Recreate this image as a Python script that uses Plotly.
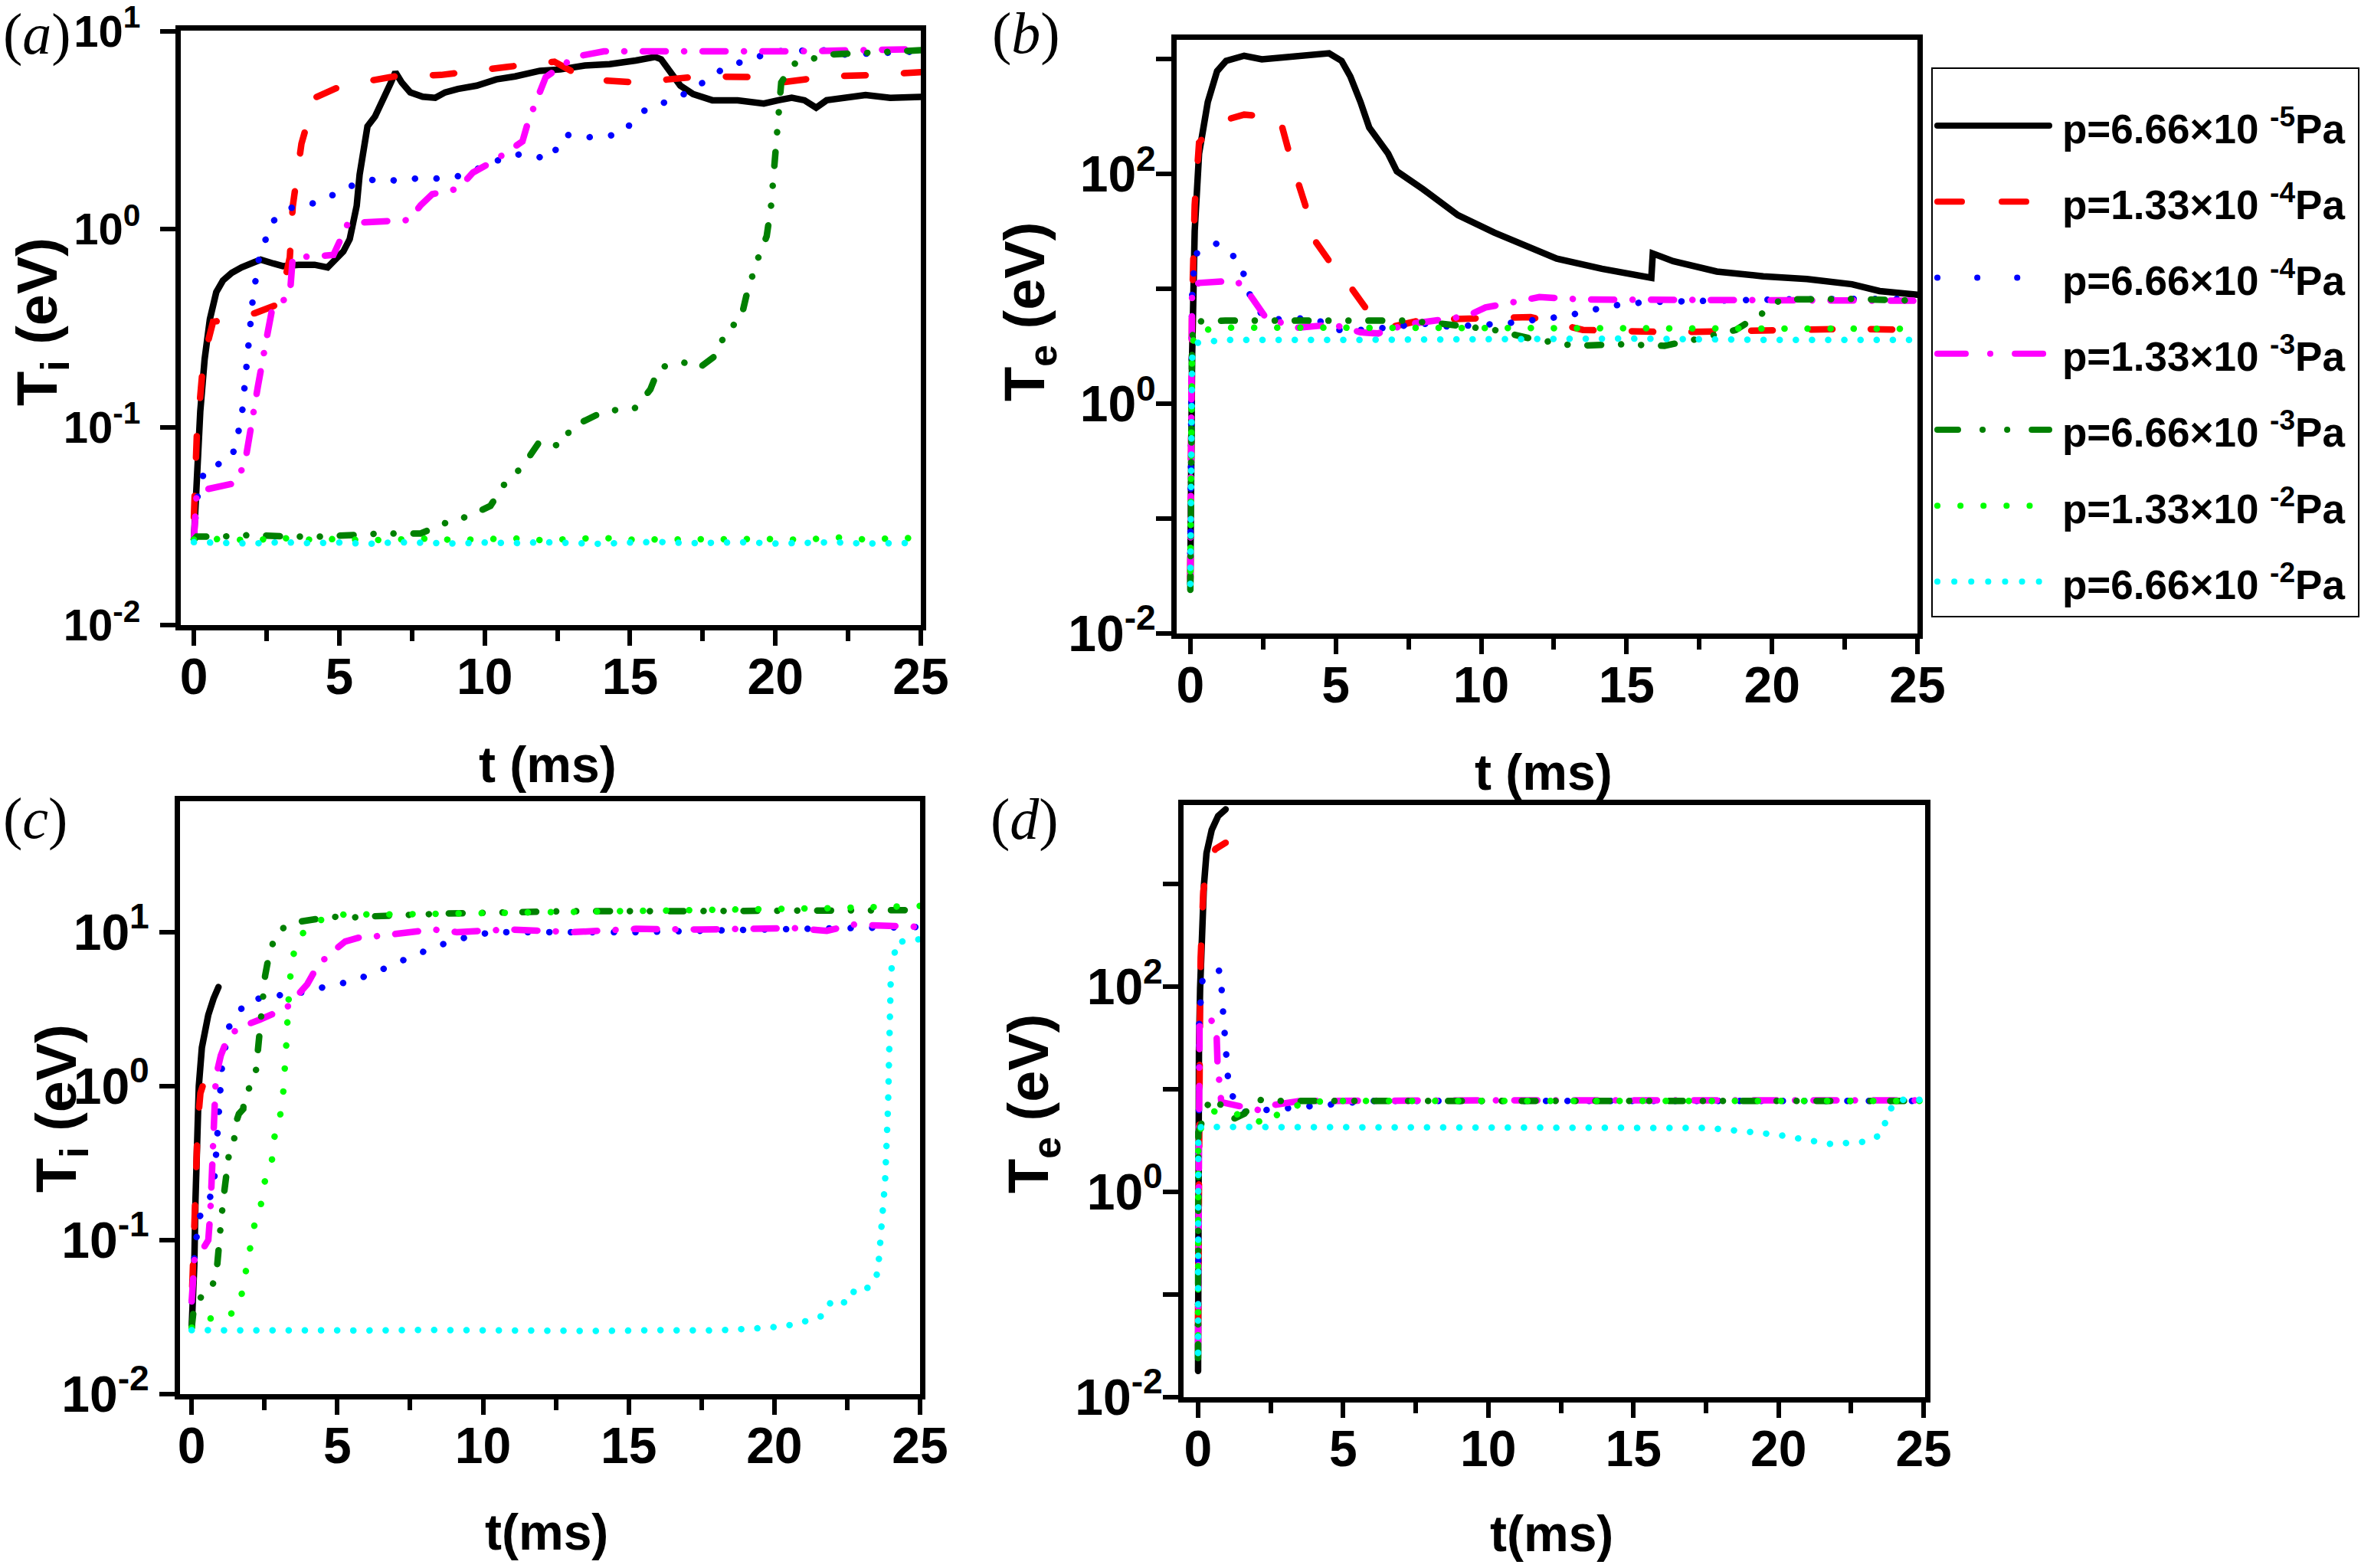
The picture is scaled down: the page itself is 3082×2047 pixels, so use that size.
import plotly.graph_objects as go

# ---------------------------------------------------------------------------
# data (t in ms, T in eV)
# series order: 6.66e-5, 1.33e-4, 6.66e-4, 1.33e-3, 6.66e-3, 1.33e-2, 6.66e-2 Pa
# ---------------------------------------------------------------------------

# (a) ion temperature
a_black_t = [0, 0.11, 0.22, 0.37, 0.55, 0.77, 1.0, 1.3, 1.64, 2.08, 2.3, 2.73, 3.06, 3.6, 4.15, 4.6, 4.9, 5.14, 5.36, 5.47,
             5.6, 5.7, 5.84, 5.97, 6.23, 6.56, 6.78, 6.93, 7.15, 7.44, 7.87, 8.3, 8.64, 9.08, 9.73, 10.4, 11.05, 11.9, 12.6, 13.45,
             14.3, 15.2, 15.86, 16.07, 16.4, 16.73, 17.17, 17.83, 18.7, 19.6, 20.1, 20.56, 21.0, 21.4, 21.76, 22.4, 23.1, 23.95, 25.0]
a_black_y = [0.027, 0.066, 0.12, 0.22, 0.35, 0.48, 0.55, 0.6, 0.64, 0.68, 0.70, 0.67, 0.65, 0.66, 0.66, 0.64, 0.70, 0.77, 0.89, 1.03,
             1.31, 1.88, 2.5, 3.3, 3.7, 4.6, 5.5, 6.2, 5.5, 4.9, 4.66, 4.6, 4.9, 5.1, 5.3, 5.7, 5.9, 6.3, 6.4, 6.7,
             6.8, 7.1, 7.4, 7.2, 6.2, 5.3, 4.8, 4.47, 4.47, 4.3, 4.47, 4.6, 4.47, 4.1, 4.47, 4.6, 4.75, 4.6, 4.65]
a_red_t = [0, 0.1, 0.33, 0.66, 1.2, 2.1, 2.95, 3.3, 3.4, 3.7, 4.15, 5.1, 6.9, 8.5, 10.8, 12.4, 13.5, 15.2, 17.4, 19.6, 20.2, 21.8, 23.5, 25.0]
a_red_y = [0.035, 0.09, 0.22, 0.34, 0.35, 0.376, 0.42, 0.72, 1.3, 2.7, 4.6, 5.3, 5.9, 6.0, 6.6, 7.0, 5.7, 5.5, 5.9, 5.85, 5.5, 5.9, 6.0, 6.2]
a_blue_t = [0, 0.1, 0.37, 1.3, 1.64, 1.75, 1.86, 2.03, 2.25, 2.7, 3.35, 3.9, 4.5, 5.07, 5.7, 6.4, 7.0, 7.65, 8.4, 9.1,
            9.7, 10.7, 11.3, 12.25, 12.75, 13.5, 14.65, 15.2, 15.6, 16.4, 17.1, 18.3, 19.1, 20.0, 21.8, 22.4, 25.0]
a_blue_y = [0.027, 0.043, 0.061, 0.069, 0.11, 0.17, 0.28, 0.45, 0.73, 1.09, 1.28, 1.32, 1.41, 1.57, 1.72, 1.8, 1.75, 1.8, 1.8, 1.85,
            2.0, 2.3, 2.4, 2.25, 3.0, 2.9, 3.0, 3.6, 4.1, 4.45, 5.0, 6.6, 7.2, 7.9, 8.0, 7.6, 7.9]
a_mag_t = [0, 0.1, 0.3, 1.4, 1.75, 1.97, 2.2, 2.5, 2.7, 3.3, 3.4, 4.3, 4.8, 5.3, 6.45, 7.4, 7.8, 8.2, 9.1, 9.6,
           10.3, 11.3, 11.5, 11.8, 12.1, 13.1, 14.1, 16.1, 18.5, 20.7, 25.0]
a_mag_y = [0.027, 0.047, 0.048, 0.052, 0.065, 0.107, 0.16, 0.28, 0.4, 0.46, 0.72, 0.73, 0.74, 1.07, 1.1, 1.11, 1.32, 1.5, 1.6, 1.93,
           2.2, 2.77, 3.5, 4.6, 5.85, 7.4, 7.9, 7.9, 7.9, 7.9, 8.1]
a_dkg_t = [0, 0.1, 1.0, 2.0, 3.2, 4.5, 6.45, 7.8, 8.6, 9.5, 10.2, 10.7, 11.3, 11.9, 12.6, 13.0, 14.1, 15.2, 15.7, 16.0,
           17.0, 17.4, 18.0, 18.3, 18.8, 19.0, 19.35, 19.7, 19.85, 20.0, 20.05, 20.2, 20.6, 21.8, 25.0]
a_dkg_y = [0.027, 0.028, 0.028, 0.0285, 0.028, 0.028, 0.029, 0.029, 0.0326, 0.0357, 0.040, 0.052, 0.063, 0.085, 0.08, 0.10, 0.12, 0.125, 0.155, 0.20,
           0.213, 0.20, 0.233, 0.31, 0.345, 0.46, 0.68, 0.92, 1.31, 2.4, 3.4, 5.5, 6.8, 7.6, 8.0]
a_ltg_t = [0, 1, 2, 3, 4, 5, 6, 7, 8, 9, 10, 11, 12, 13, 14, 15, 16, 17, 18, 19, 20, 21, 22, 23, 24, 25]
a_ltg_y = [0.027, 0.0272, 0.0268, 0.0275, 0.027, 0.0272, 0.0268, 0.027, 0.0273, 0.0269, 0.0271, 0.0274, 0.0268,
           0.0272, 0.0276, 0.027, 0.0271, 0.0269, 0.0274, 0.0275, 0.0272, 0.0269, 0.0278, 0.0271, 0.0273, 0.0276]
a_cyan_t = [0, 1, 2, 3, 4, 5, 6, 7, 8, 9, 10, 11, 12, 13, 14, 15, 16, 17, 18, 19, 20, 21, 22, 23, 24, 25]
a_cyan_y = [0.0262, 0.026, 0.0258, 0.0262, 0.0259, 0.0261, 0.0257, 0.0262, 0.026, 0.0258, 0.0261, 0.0259, 0.0262,
            0.026, 0.0257, 0.0261, 0.0263, 0.0259, 0.026, 0.0262, 0.0258, 0.026, 0.0262, 0.0258, 0.0261, 0.026]

# (b) electron temperature
b_black_t = [0, 0.06, 0.15, 0.3, 0.6, 0.92, 1.23, 1.85, 2.46, 3.1, 3.7, 4.3, 4.77, 5.2, 5.5, 5.85, 6.15, 6.8, 7.1, 8.0,
             9.2, 10.45, 11.7, 12.6, 14.15, 15.7, 15.85, 15.9, 16.6, 18.1, 19.7, 21.2, 22.75, 23.7, 25.0]
b_black_y = [0.027, 2.5, 32, 151, 425, 790, 970, 1075, 1000, 1040, 1075, 1090, 1130, 970, 710, 425, 255, 151, 106, 74,
             44, 31, 22.7, 18.4, 15, 12.9, 12.5, 20.4, 17.5, 14.2, 12.9, 12.2, 11, 9.6, 8.9]
b_red_t = [0, 0.06, 0.15, 0.3, 0.9, 1.85, 3.07, 3.5, 3.95, 4.3, 4.9, 5.5, 6.15, 6.8, 8.0, 9.2, 10.45, 11.7, 12.6, 13.5, 16.6, 19.7, 22.75, 25.0]
b_red_y = [0.03, 6.9, 54, 188, 282, 330, 310, 123, 54, 26, 15.8, 10.5, 6.2, 4.6, 5.4, 5.5, 5.6, 5.7, 5.0, 4.4, 4.2, 4.4, 4.5, 4.4]
b_blue_t = [0, 0.06, 0.15, 0.92, 1.7, 2.1, 2.6, 4.3, 4.9, 6.0, 8.0, 8.9, 10.8, 11.7, 12.9, 13.85, 14.75, 15.7, 18.45, 20.1, 22.75, 25.0]
b_blue_y = [0.05, 8.5, 20, 25, 17.5, 8.0, 5.4, 5.6, 4.4, 4.4, 5.0, 4.7, 5.0, 5.3, 5.8, 6.6, 7.3, 7.7, 8.1, 8.1, 8.2, 8.2]
b_mag_t = [0, 0.06, 0.3, 1.54, 1.85, 2.6, 3.7, 4.9, 5.85, 6.45, 7.4, 8.6, 9.5, 10.15, 11.1, 12.0, 13.5, 16.6, 19.7, 25.0]
b_mag_y = [0.03, 10.5, 11.3, 11.8, 10.5, 5.6, 4.6, 4.9, 4.2, 4.1, 4.9, 5.3, 5.8, 6.9, 7.8, 8.5, 8.1, 8.0, 8.1, 7.9]
b_dkg_t = [0, 0.06, 0.15, 1.2, 4.3, 7.4, 8.6, 10.45, 11.7, 13.2, 14.75, 16.3, 17.5, 18.75, 19.7, 20.3, 22.75, 25.0]
b_dkg_y = [0.024, 3.7, 5.2, 5.3, 5.3, 5.3, 5.0, 4.4, 3.7, 3.2, 3.3, 3.2, 3.7, 4.4, 6.2, 8.1, 8.2, 7.9]
b_ltg_t = [0, 0.06, 0.15, 1.2, 5, 10, 15, 20, 25]
b_ltg_y = [0.035, 3.0, 4.3, 4.6, 4.6, 4.6, 4.5, 4.6, 4.5]
b_cyan_t = [0, 0.06, 0.25, 1.2, 5, 10, 15, 20, 25]
b_cyan_y = [0.027, 2.5, 3.4, 3.6, 3.6, 3.7, 3.7, 3.6, 3.6]

# (c) ion temperature
c_black_t = [0, 0.05, 0.09, 0.13, 0.18, 0.245, 0.35, 0.57, 0.75, 0.92]
c_black_y = [0.027, 0.04, 0.069, 0.18, 0.47, 1.0, 1.78, 2.9, 3.7, 4.4]
c_red_t = [0.02, 0.07, 0.1, 0.13, 0.17, 0.2, 0.3, 0.46, 0.65, 0.85]
c_red_y = [0.05, 0.08, 0.12, 0.2, 0.35, 0.55, 0.9, 1.12, 1.3, 1.48]
c_blue_t = [0, 0.11, 0.26, 0.75, 0.85, 0.95, 1.03, 1.26, 1.88, 2.58, 3.31, 3.99, 4.72, 5.43, 6.24, 6.95, 7.66, 8.58, 9.46, 10.3,
            12.2, 15.25, 19.6, 22.7, 25.0]
c_blue_y = [0.04, 0.087, 0.14, 0.21, 0.39, 0.72, 1.28, 2.39, 3.56, 3.8, 4.0, 4.1, 4.5, 4.76, 5.4, 6.25, 7.1, 8.3, 9.3, 10.0,
            10.0, 10.0, 10.4, 10.6, 10.8]
c_mag_t = [0, 0.1, 0.22, 0.57, 0.64, 0.68, 0.7, 0.73, 0.79, 0.83, 1.0, 1.19, 1.56, 1.95, 2.33, 2.8, 3.16, 3.48, 3.97, 4.27,
           4.65, 5.27, 5.82, 6.32, 7.2, 8.3, 9.1, 10.9, 13.1, 15.25, 17.4, 20.7, 21.8, 22.7, 25.0]
c_mag_y = [0.04, 0.077, 0.078, 0.10, 0.15, 0.22, 0.35, 0.5, 0.74, 1.15, 1.58, 1.95, 2.37, 2.5, 2.7, 2.95, 3.07, 3.6, 4.6, 5.8,
           7.0, 8.7, 9.3, 9.4, 9.85, 10.4, 10.0, 10.4, 10.0, 10.5, 10.4, 10.6, 10.2, 11.2, 10.8]
c_dkg_t = [0, 0.1, 0.28, 0.68, 0.88, 0.92, 0.99, 1.08, 1.17, 1.27, 1.45, 1.49, 1.62, 1.77, 1.8, 2.1, 2.2, 2.28, 2.34, 2.42,
           2.52, 2.69, 3.0, 3.57, 4.15, 4.84, 5.4, 5.9, 8.7, 13.1, 17.4, 21.8, 25.0]
c_dkg_y = [0.027, 0.04, 0.042, 0.047, 0.07, 0.08, 0.12, 0.18, 0.25, 0.35, 0.42, 0.56, 0.66, 0.71, 0.86, 1.06, 1.23, 1.73, 2.57, 3.6,
           5.2, 7.7, 10.3, 11.6, 12.1, 12.6, 12.4, 12.6, 13.2, 13.7, 13.7, 13.7, 13.9]
c_ltg_t = [0, 0.28, 1.22, 1.66, 1.88, 2.02, 2.08, 2.17, 2.3, 2.37, 2.41, 2.55, 2.77, 2.85, 2.98, 3.12, 3.18, 3.2, 3.27, 3.3,
           3.36, 3.42, 3.6, 4.0, 4.57, 5.3, 6.5, 10.9, 15.25, 19.6, 21.8, 25.0]
c_ltg_y = [0.027, 0.031, 0.031, 0.039, 0.066, 0.088, 0.10, 0.13, 0.145, 0.16, 0.21, 0.26, 0.34, 0.48, 0.57, 0.78, 1.07, 1.53, 2.17, 3.1,
           4.4, 6.25, 8.6, 11.0, 12.3, 13.1, 13.0, 13.3, 13.7, 14.0, 14.3, 14.8]
c_cyan_t = [0, 2, 4, 6, 8, 10, 12, 14, 16, 18, 19.8, 20.5, 21.15, 21.6, 22.0, 22.5, 22.8, 23.2, 23.55, 23.67,
            23.8, 23.9, 23.95, 24.0, 24.2, 25.0]
c_cyan_y = [0.026, 0.0258, 0.026, 0.0259, 0.0261, 0.0258, 0.026, 0.0257, 0.026, 0.0259, 0.027, 0.028, 0.030, 0.032, 0.041, 0.039,
            0.049, 0.049, 0.061, 0.11, 0.24, 0.72, 2.2, 5.5, 8.6, 9.0]

# (d) electron temperature
d_black_t = [0, 0.005, 0.01, 0.02, 0.03, 0.07, 0.14, 0.2, 0.29, 0.47, 0.69, 0.95]
d_black_y = [0.018, 0.4, 3, 11, 23, 96, 400, 955, 2000, 3370, 4600, 5350]
d_red_t = [0, 0.02, 0.05, 0.07, 0.09, 0.14, 0.18, 0.33, 0.6, 0.95]
d_red_y = [0.05, 10, 49, 87, 190, 360, 850, 1590, 2200, 2530]
d_blue_t = [0, 0.03, 0.04, 0.16, 0.77, 0.86, 0.95, 1.06, 1.5, 2.43, 3.25, 4.3, 5.85, 10, 15, 20, 25]
d_blue_y = [0.05, 19, 49, 124, 145, 57, 22, 10, 6.0, 6.2, 6.6, 7.0, 7.7, 7.7, 7.7, 7.7, 7.7]
d_mag_t = [0, 0.02, 0.03, 0.04, 0.05, 0.42, 0.64, 0.67, 0.73, 0.8, 1.6, 2.07, 2.55, 3.5, 10, 15, 20, 25]
d_mag_y = [0.03, 6.3, 11, 23, 41, 51, 33, 18, 11, 7.5, 6.7, 6.3, 7.0, 7.7, 7.8, 7.8, 7.8, 7.8]
d_dkg_t = [0, 0.01, 0.42, 0.9, 1.25, 1.6, 2.0, 2.8, 5, 10, 15, 20, 25]
d_dkg_y = [0.024, 3.8, 8.3, 6.7, 5.2, 5.8, 7.9, 7.7, 7.7, 7.7, 7.7, 7.7, 7.7]
d_ltg_t = [0, 0.01, 0.47, 1.0, 1.6, 2.07, 2.43, 2.8, 3.73, 4.67, 10, 15, 20, 25]
d_ltg_y = [0.04, 3.8, 6.1, 6.0, 5.5, 4.8, 4.5, 6.0, 7.5, 7.7, 7.7, 7.7, 7.7, 7.7]
d_cyan_t = [0, 0.01, 0.1, 1.13, 5, 10, 15, 17.6, 18.8, 20, 21, 21.9, 22.35, 23.07, 23.5, 23.7, 23.9, 24.1, 25]
d_cyan_y = [0.027, 3.8, 4.3, 4.3, 4.3, 4.3, 4.3, 4.2, 3.9, 3.6, 3.2, 2.9, 3.0, 3.1, 3.6, 4.8, 6.7, 7.9, 7.9]

legend_names = ["p=6.66×10 <sup>-5</sup>Pa", "p=1.33×10 <sup>-4</sup>Pa", "p=6.66×10 <sup>-4</sup>Pa",
                "p=1.33×10 <sup>-3</sup>Pa", "p=6.66×10 <sup>-3</sup>Pa", "p=1.33×10 <sup>-2</sup>Pa",
                "p=6.66×10 <sup>-2</sup>Pa"]
x_tickvals = [0, 5, 10, 15, 20, 25]
x_ticktext = ["0", "5", "10", "15", "20", "25"]
x_minorvals = [2.5, 7.5, 12.5, 17.5, 22.5]
yi_tickvals = [0.01, 0.1, 1, 10]
yi_ticktext = ["10<sup>-2</sup>", "10<sup>-1</sup>", "10<sup>0</sup>", "10<sup>1</sup>"]
ye_tickvals = [0.01, 1, 100]
ye_ticktext = ["10<sup>-2</sup>", "10<sup>0</sup>", "10<sup>2</sup>"]
ye_minorvals = [0.1, 10, 1000]

# styles
colors = ["#000000", "#FF0000", "#0000FF", "#FF00FF", "#008000", "#00FF00", "#00FFFF"]
dash_plot = ["solid", "28px,50px", "0.1px,28px", "30px,24px,0.1px,24px",
             "18px,26px,0.1px,26px,0.1px,26px", "0.1px,30px", "0.1px,21px"]
dash_key = ["solid", "32px,52px", "0.1px,52px", "37px,32px,0.1px,32px",
            "27px,32px,0.1px,32px,0.1px,32px", "0.1px,30px", "0.1px,22px"]
LW = 8.5
FONT = "Liberation Sans, Arial, sans-serif"

W, H = 3082, 2047


def px(x):
    return x / W


def py(y):
    return 1 - y / H


panels = [
    ("x", "y", [(a_black_t, a_black_y), (a_red_t, a_red_y), (a_blue_t, a_blue_y), (a_mag_t, a_mag_y),
                (a_dkg_t, a_dkg_y), (a_ltg_t, a_ltg_y), (a_cyan_t, a_cyan_y)]),
    ("x2", "y2", [(b_black_t, b_black_y), (b_red_t, b_red_y), (b_blue_t, b_blue_y), (b_mag_t, b_mag_y),
                  (b_dkg_t, b_dkg_y), (b_ltg_t, b_ltg_y), (b_cyan_t, b_cyan_y)]),
    ("x3", "y3", [(c_black_t, c_black_y), (c_red_t, c_red_y), (c_blue_t, c_blue_y), (c_mag_t, c_mag_y),
                  (c_dkg_t, c_dkg_y), (c_ltg_t, c_ltg_y), (c_cyan_t, c_cyan_y)]),
    ("x4", "y4", [(d_black_t, d_black_y), (d_red_t, d_red_y), (d_blue_t, d_blue_y), (d_mag_t, d_mag_y),
                  (d_dkg_t, d_dkg_y), (d_ltg_t, d_ltg_y), (d_cyan_t, d_cyan_y)]),
]

fig = go.Figure()
for xa, ya, series in panels:
    for i, (t, v) in enumerate(series):
        fig.add_trace(go.Scatter(x=t, y=v, mode="lines", xaxis=xa, yaxis=ya, showlegend=False,
                                 line=dict(color=colors[i], width=LW, dash=dash_plot[i]),
                                 hoverinfo="skip"))

# legend drawn as its own little box so the keys are as long as in the original
KEY_X = [0, 1]
for i in range(len(legend_names)):
    fig.add_trace(go.Scatter(x=KEY_X, y=[i, i], mode="lines", xaxis="x5", yaxis="y5", showlegend=False,
                             line=dict(color=colors[i], width=8, dash=dash_key[i]), hoverinfo="skip"))

tick_font = dict(family=FONT, size=66, color="black", weight="bold")
ax = dict(showline=True, linecolor="black", linewidth=7, mirror=True, ticks="outside", ticklen=20,
          tickwidth=6, tickcolor="black", showgrid=False, zeroline=False, tickfont=tick_font,
          ticklabeloverflow="allow", automargin=False)


def xaxis(dom, rng, anchor):
    return dict(ax, domain=[px(dom[0]), px(dom[1])], range=rng, anchor=anchor,
                tickmode="array", tickvals=x_tickvals, ticktext=x_ticktext, ticklabelstandoff=-16,
                minor=dict(tickmode="array", tickvals=x_minorvals, ticks="outside", ticklen=14,
                           tickwidth=6, tickcolor="black", showgrid=False))


def yaxis(dom, rng, anchor, vals, text, standoff, minor=None, size=66):
    d = dict(ax, type="log", domain=[py(dom[1]), py(dom[0])], range=rng, anchor=anchor,
             tickmode="array", tickvals=vals, ticktext=text, ticklabelstandoff=standoff,
             tickfont=dict(tick_font, size=size))
    if minor:
        d["minor"] = dict(tickmode="array", tickvals=minor, ticks="outside", ticklen=20,
                          tickwidth=6, tickcolor="black", showgrid=False)
    return d


plain = dict(showline=True, linecolor="black", linewidth=2, mirror=True, showgrid=False, zeroline=False,
             showticklabels=False, ticks="", fixedrange=True, automargin=False)

fig.update_layout(
    width=W, height=H, autosize=False,
    margin=dict(l=0, r=0, t=0, b=0, autoexpand=False),
    paper_bgcolor="white", plot_bgcolor="white",
    xaxis=xaxis((236, 1202), [-0.45, 25], "y"),
    yaxis=yaxis((40, 816), [-2, 1.002], "x", yi_tickvals, yi_ticktext, 14, size=58),
    xaxis2=xaxis((1536, 2503), [-0.47, 25], "y2"),
    yaxis2=yaxis((52, 827), [-2, 3.17], "x2", ye_tickvals, ye_ticktext, -13, minor=ye_minorvals),
    xaxis3=xaxis((235, 1201), [-0.4, 25], "y3"),
    yaxis3=yaxis((1046, 1820), [-2, 1.85], "x3", yi_tickvals, yi_ticktext, 0),
    xaxis4=xaxis((1545, 2513), [-0.5, 25.05], "y4"),
    yaxis4=yaxis((1051, 1824), [-2, 3.77], "x4", ye_tickvals, ye_ticktext, -13, minor=ye_minorvals),
    xaxis5=dict(plain, domain=[px(2523), px(3078)], range=[-0.041, 3.76], anchor="y5"),
    yaxis5=dict(plain, domain=[py(804), py(90)], range=[6.45, -0.746], anchor="x5"),
    showlegend=False,
)

title_font = dict(family=FONT, size=66, color="black", weight="bold")
ytitle_font = dict(family=FONT, size=74, color="black", weight="bold")
label_font = dict(family="Liberation Serif, Times New Roman, serif", size=76, color="black")

notes = [
    # x titles
    dict(text="t (ms)", x=px(715), y=py(998), font=title_font),
    dict(text="t (ms)", x=px(2015), y=py(1008), font=title_font),
    dict(text="t(ms)", x=px(713), y=py(2000), font=title_font),
    dict(text="t(ms)", x=px(2025), y=py(2002), font=title_font),
    # y titles
    dict(text="T<sub>i</sub> (eV)", x=px(54), y=py(420), font=ytitle_font, textangle=-90),
    dict(text="T<sub>e</sub> (eV)", x=px(1343), y=py(407), font=ytitle_font, textangle=-90),
    dict(text="T<sub>i</sub> (eV)", x=px(79), y=py(1447), font=ytitle_font, textangle=-90),
    dict(text="T<sub>e</sub> (eV)", x=px(1348), y=py(1441), font=ytitle_font, textangle=-90),
    # panel letters
    dict(text="(<i>a</i>)", x=px(2), y=py(44), font=label_font, xanchor="left"),
    dict(text="(<i>b</i>)", x=px(1293), y=py(43), font=label_font, xanchor="left"),
    dict(text="(<i>c</i>)", x=px(2), y=py(1068), font=label_font, xanchor="left"),
    dict(text="(<i>d</i>)", x=px(1291), y=py(1069), font=label_font, xanchor="left"),
]
for n in notes:
    n.setdefault("xanchor", "center")
    fig.add_annotation(xref="paper", yref="paper", yanchor="middle", showarrow=False, **n)

legend_font = dict(family=FONT, size=53, color="black", weight="bold")
for i, name in enumerate(legend_names):
    fig.add_annotation(text=name, xref="x5", yref="y5", x=1.1, y=i, xanchor="left", yanchor="middle",
                       showarrow=False, font=legend_font)

# Origin draws its dashes with round ends; also keep the page exactly figure-sized
post = """
document.body.style.margin = '0';
document.body.style.overflow = 'hidden';
var gd = document.getElementById('{plot_id}');
function roundCaps(){
  gd.querySelectorAll('path.js-line').forEach(function(p){ p.style.strokeLinecap = 'round'; });
}
roundCaps();
if (gd.on) { gd.on('plotly_afterplot', roundCaps); }
setTimeout(roundCaps, 200);
"""

fig.write_html("out.html", post_script=post, config={"displayModeBar": False})
